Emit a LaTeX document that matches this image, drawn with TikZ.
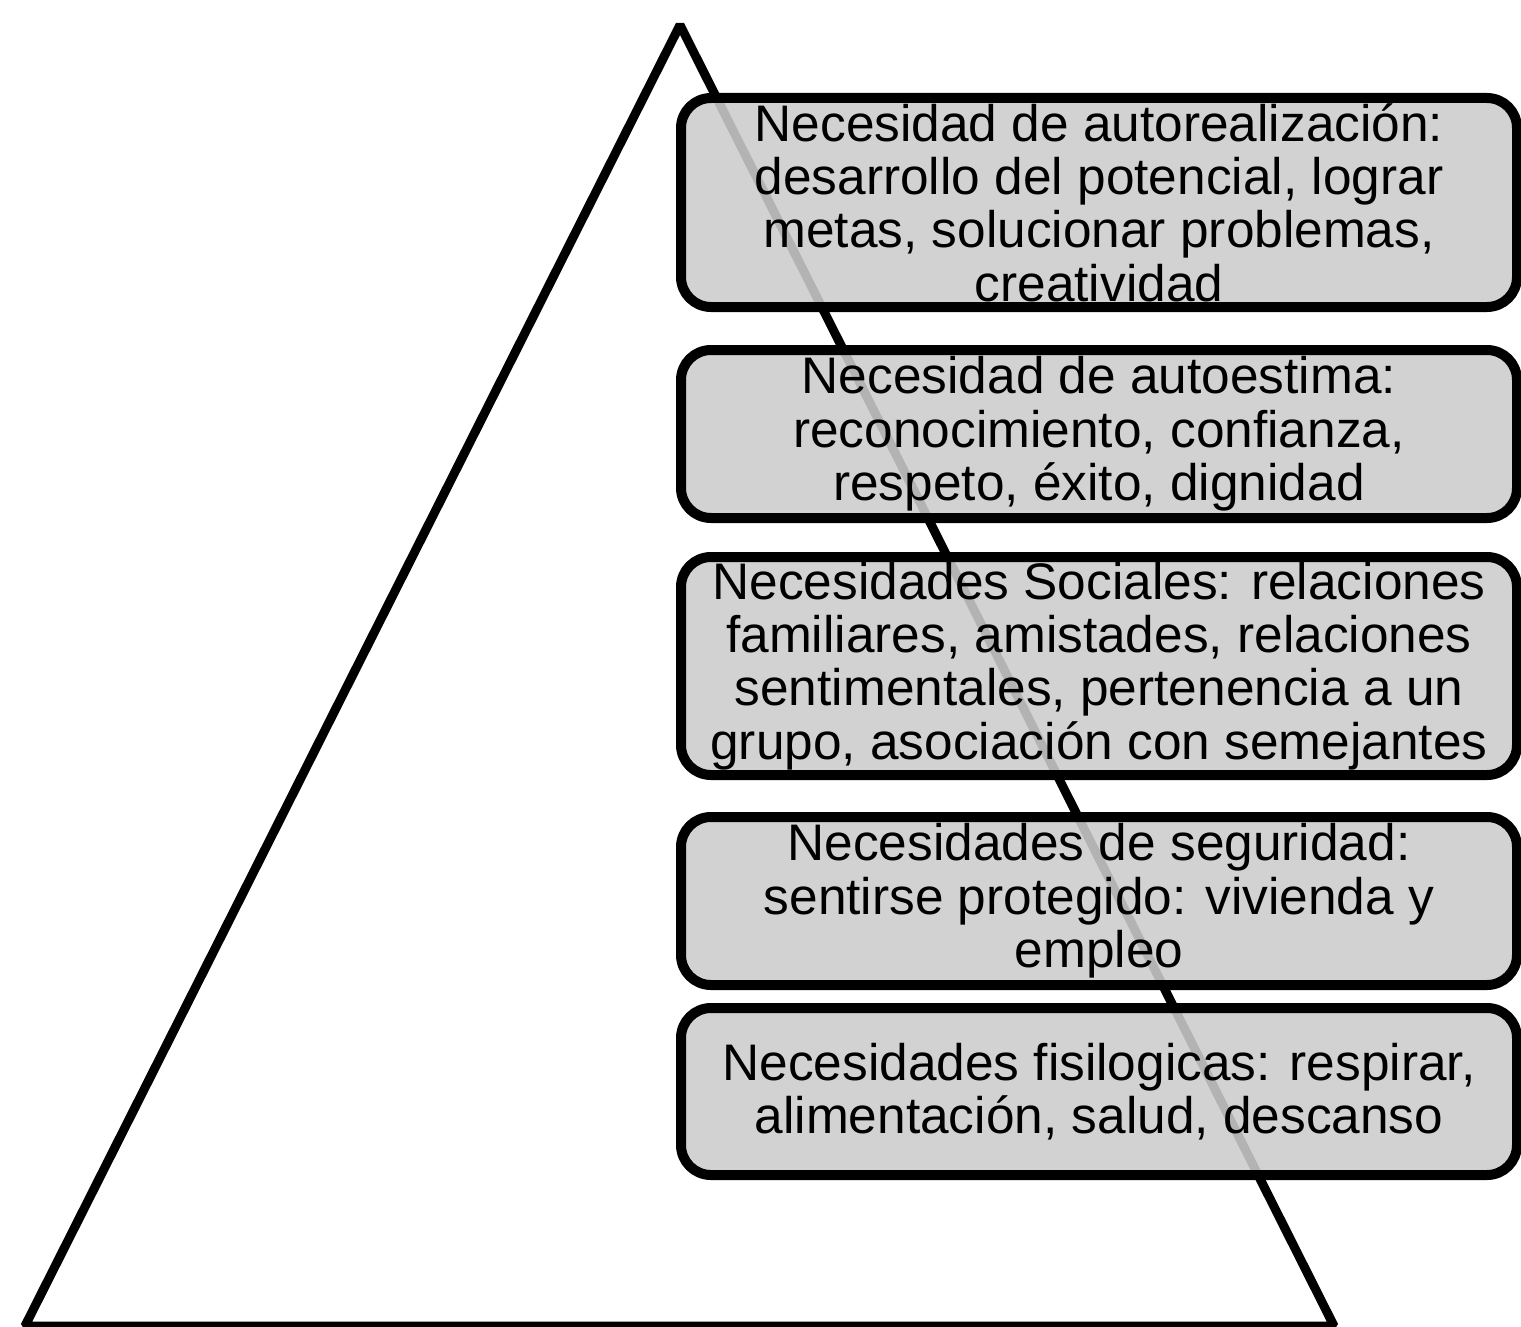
\documentclass[tikz,border=0pt]{standalone}
\usepackage{fontspec}
\setmainfont{Liberation Sans}

\begin{document}
\begin{tikzpicture}[x=0.5pt,y=-0.5pt,
    needbox/.style = {draw, line width=5pt, rounded corners=15pt, fill=black!20, fill opacity=0.88, text opacity=1,
        inner sep=0pt, minimum width=418pt, align=center, font=\fontsize{25.7pt}{26.7pt}\selectfont}]
    \useasboundingbox (0,0) rectangle (1521,1327);
    % pyramid
    \coordinate (apex) at (680,25);
    \coordinate (baseL) at (25,1326);
    \coordinate (baseR) at (1334,1326);
    \draw[line width=4.5pt, line join=bevel] (apex) -- (baseL) -- (baseR) -- cycle;
    % levels
    \node[needbox, minimum height=104.5pt] (autorealizacion) at (1099,202.5) {Necesidad de autorealización:\\desarrollo del potencial, lograr\\metas, solucionar problemas,\\creatividad};
    \node[needbox, minimum height=84pt] (autoestima) at (1099,434) {Necesidad de autoestima:\\reconocimiento, confianza,\\respeto, éxito, dignidad};
    \node[needbox, minimum height=109pt] (sociales) at (1099,666) {Necesidades Sociales: relaciones\\familiares, amistades, relaciones\\sentimentales, pertenencia a un\\grupo, asociación con semejantes};
    \node[needbox, minimum height=84pt] (seguridad) at (1099,901) {Necesidades de seguridad:\\sentirse protegido: vivienda y\\empleo};
    \node[needbox, minimum height=83.5pt] (fisiologicas) at (1099,1091.5) {Necesidades fisilogicas: respirar,\\alimentación, salud, descanso};
\end{tikzpicture}
\end{document}
